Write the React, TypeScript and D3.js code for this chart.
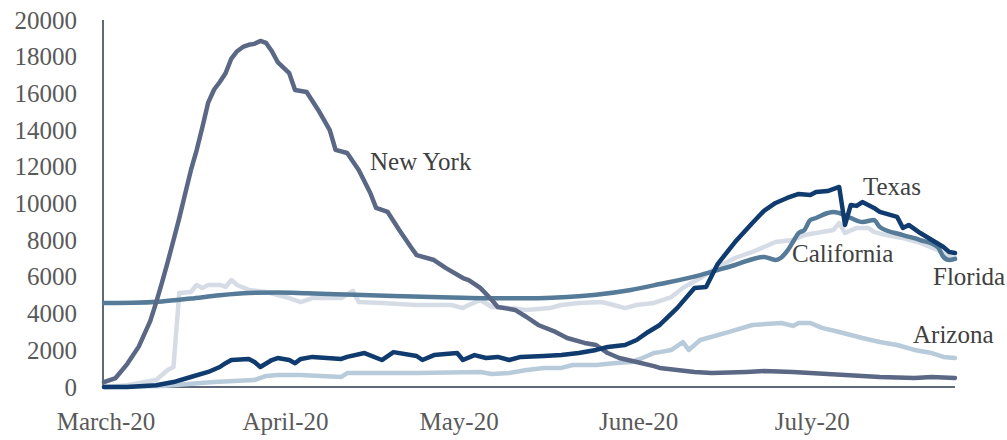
import React from "react";
import * as d3 from "d3";

// Days counted from 2020-03-01
const startDate = new Date(2020, 2, 1);
const endDate = new Date(2020, 6, 26);

const monthTicks = [
  new Date(2020, 2, 1),
  new Date(2020, 3, 1),
  new Date(2020, 4, 1),
  new Date(2020, 5, 1),
  new Date(2020, 6, 1),
];
const yTicks = [0, 2000, 4000, 6000, 8000, 10000, 12000, 14000, 16000, 18000, 20000];

const newYork: [number, number][] = [
  [0, 270], [2, 490], [4, 1250], [6, 2200], [8, 3600], [9, 4600], [10, 5670], [11, 6800],
  [12, 8000], [13, 9200], [14, 10500], [15, 11800], [16, 12900], [17, 14170], [18, 15500],
  [19, 16200], [20, 16620], [21, 17100], [22, 17900], [23, 18300], [24, 18530], [25, 18650],
  [26, 18700], [27, 18860], [28, 18750], [29, 18300], [30, 17710], [32, 17100], [33, 16190],
  [35, 16080], [37, 15100], [39, 14000], [40, 12920], [42, 12750], [44, 11830], [46, 10570],
  [47, 9760], [49, 9540], [51, 8560], [53, 7630], [54, 7190], [57, 6920], [59, 6490],
  [62, 5940], [63, 5830], [65, 5400], [67, 4740], [68, 4360], [71, 4200], [73, 3815],
  [75, 3380], [78, 3000], [80, 2670], [83, 2400], [85, 2290], [87, 1850], [89, 1580],
  [92, 1360], [95, 1140], [96, 1040], [102, 820], [105, 760], [111, 820], [114, 870],
  [119, 820], [122, 760], [128, 650], [134, 545], [140, 490], [143, 545], [147, 490],
];

const florida: [number, number][] = [
  [0, 4580], [5, 4590], [10, 4660], [15, 4820], [20, 5000], [25, 5120], [30, 5150],
  [35, 5110], [40, 5060], [50, 4960], [60, 4880], [70, 4830], [75, 4840], [80, 4900],
  [85, 5030], [91, 5290], [96, 5610], [103, 6100], [109, 6650], [114, 7090], [116, 6920],
  [118, 7400], [119, 7900], [120, 8390], [121, 8560], [122, 9100], [123, 9210], [125, 9480],
  [126, 9540], [127, 9480], [129, 9210], [131, 8990], [133, 9100], [134, 8720], [138, 8280],
  [141, 8010], [144, 7630], [145, 7090], [146, 6920], [147, 6980],
];

const texas: [number, number][] = [
  [0, 0], [4, 0], [9, 100], [12, 270], [15, 545], [18, 820], [20, 1090], [21, 1300],
  [22, 1470], [25, 1530], [26, 1360], [27, 1090], [29, 1470], [30, 1580], [32, 1470],
  [33, 1300], [34, 1530], [36, 1640], [41, 1530], [42, 1640], [45, 1850], [48, 1470],
  [50, 1900], [54, 1690], [55, 1470], [57, 1740], [61, 1850], [62, 1470], [64, 1740],
  [66, 1580], [68, 1640], [70, 1470], [72, 1640], [76, 1690], [79, 1740], [82, 1850],
  [85, 2020], [87, 2180], [90, 2290], [92, 2560], [94, 3000], [96, 3380], [99, 4300],
  [102, 5400], [104, 5450], [106, 6700], [109, 7900], [112, 8940], [114, 9600], [116, 10030],
  [118, 10300], [120, 10520], [122, 10460], [123, 10630], [125, 10680], [127, 10900],
  [128, 8830], [129, 9920], [130, 9870], [131, 10080], [133, 9760], [134, 9540], [137, 9270],
  [138, 8670], [139, 8830], [141, 8390], [143, 8010], [145, 7630], [146, 7360], [147, 7300],
];

const california: [number, number][] = [
  [0, 0], [4, 100], [9, 380], [11, 930], [12, 1090], [13, 5120], [15, 5180], [16, 5560],
  [17, 5400], [18, 5560], [20, 5560], [21, 5450], [22, 5830], [23, 5560], [25, 5290],
  [28, 5180], [30, 5010], [32, 4850], [34, 4630], [36, 4850], [41, 4850], [43, 5240],
  [44, 4630], [48, 4580], [54, 4470], [60, 4470], [62, 4300], [63, 4470], [65, 4740],
  [67, 4360], [70, 4300], [73, 4200], [77, 4300], [79, 4470], [82, 4580], [86, 4630],
  [88, 4470], [90, 4300], [92, 4470], [95, 4580], [98, 4900], [100, 5400], [103, 5940],
  [106, 6540], [109, 7030], [112, 7360], [116, 7900], [119, 8010], [121, 8280], [123, 8390],
  [126, 8560], [127, 8940], [128, 8390], [130, 8670], [132, 8670], [133, 8450], [135, 8280],
  [138, 8120], [141, 7850], [144, 7470], [146, 7090], [147, 7030],
];

const arizona: [number, number][] = [
  [0, 0], [10, 50], [19, 270], [26, 380], [28, 600], [30, 650], [34, 650], [41, 545],
  [42, 760], [54, 760], [65, 820], [67, 710], [70, 760], [73, 930], [76, 1040], [79, 1040],
  [81, 1200], [85, 1200], [88, 1300], [91, 1360], [93, 1580], [95, 1850], [96, 1900],
  [98, 2020], [100, 2450], [101, 2020], [103, 2560], [108, 3000], [112, 3380], [117, 3490],
  [119, 3330], [120, 3490], [122, 3490], [124, 3220], [127, 3000], [131, 2670], [134, 2450],
  [137, 2290], [140, 2020], [143, 1850], [145, 1640], [147, 1580],
];

const seriesNames = ["California", "Arizona", "Florida", "New York", "Texas"];
const seriesData = [california, arizona, florida, newYork, texas];
const seriesColors = ["#d6dce6", "#b8cbda", "#557b98", "#5a6885", "#0f3b6e"];

const labelText = ["New York", "Texas", "California", "Florida", "Arizona"];
const labelPos: [number, number][] = [
  [370, 170], [863, 195], [792, 262], [933, 285], [913, 343],
];

export default function App() {
  const W = 1007;
  const H = 440;
  const x = d3.scaleTime().domain([startDate, endDate]).range([104, 955]);
  const y = d3.scaleLinear().domain([0, 20000]).range([387, 20]);
  const font = "'Liberation Serif', 'Times New Roman', serif";

  const line = (curve: d3.CurveFactory) =>
    d3
      .line<[number, number]>()
      .x((d) => x(d3.timeDay.offset(startDate, d[0])))
      .y((d) => y(d[1]))
      .curve(curve);

  const fmt = d3.timeFormat("%B-%y");

  return (
    <svg
      width={W}
      height={H}
      style={{ position: "absolute", left: 0, top: 0, background: "#fff" }}
    >
      {yTicks.map((t) => (
        <text
          key={t}
          x={77}
          y={y(t) + 8.5}
          textAnchor="end"
          fontFamily={font}
          fontSize={25}
          fill="#595959"
        >
          {t}
        </text>
      ))}
      {monthTicks.map((m) => (
        <text
          key={m.toISOString()}
          x={x(m) + 2}
          y={430}
          textAnchor="middle"
          fontFamily={font}
          fontSize={25}
          fill="#595959"
        >
          {fmt(m)}
        </text>
      ))}
      <line x1={103} x2={103} y1={y(20000)} y2={y(0)} stroke="#5f6979" strokeWidth={2} />
      <line x1={103} x2={955} y1={y(0)} y2={y(0)} stroke="#5f6979" strokeWidth={2} />
      {seriesData.map((s, i) => (
        <path
          key={seriesNames[i]}
          d={line(seriesNames[i] === "Florida" ? d3.curveMonotoneX : d3.curveLinear)(s) || ""}
          fill="none"
          stroke={seriesColors[i]}
          strokeWidth={4.5}
          strokeLinejoin="round"
          strokeLinecap="round"
        />
      ))}
      {labelText.map((t, i) => (
        <text
          key={t}
          x={labelPos[i][0]}
          y={labelPos[i][1]}
          fontFamily={font}
          fontSize={25}
          fill="#404040"
        >
          {t}
        </text>
      ))}
    </svg>
  );
}
